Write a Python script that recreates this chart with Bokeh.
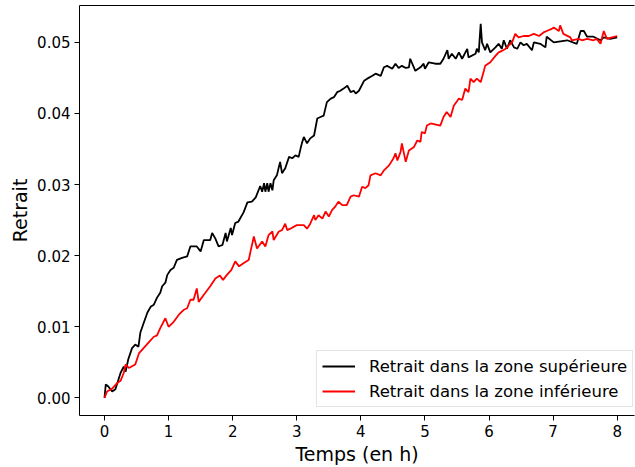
from bokeh.plotting import figure
from bokeh.models import Range1d, FixedTicker, NumeralTickFormatter, Legend, LegendItem, LinearAxis
from bokeh.embed import file_html
from bokeh.resources import INLINE

# Temps (h) and retrait, zone supérieure
t_sup = [0.00, 0.02, 0.06, 0.12, 0.17, 0.25, 0.30, 0.33, 0.37, 0.43, 0.48, 0.53, 0.56, 0.61, 0.67, 0.72,
         0.77, 0.82, 0.87, 0.90, 0.95, 0.98, 1.03, 1.08, 1.13, 1.21, 1.29, 1.34, 1.44, 1.50, 1.55, 1.65,
         1.68, 1.73, 1.78, 1.84, 1.89, 1.91, 1.97, 1.99, 2.04, 2.09, 2.17, 2.23, 2.30, 2.36, 2.43, 2.46,
         2.49, 2.51, 2.54, 2.56, 2.59, 2.62, 2.64, 2.69, 2.74, 2.77, 2.82, 2.88, 2.93, 2.98, 3.03, 3.06,
         3.08, 3.11, 3.16, 3.21, 3.27, 3.32, 3.37, 3.42, 3.47, 3.53, 3.58, 3.63, 3.68, 3.73, 3.79, 3.84,
         3.89, 3.92, 3.97, 4.05, 4.10, 4.18, 4.23, 4.31, 4.36, 4.41, 4.49, 4.54, 4.59, 4.64, 4.70, 4.75,
         4.77, 4.85, 4.93, 4.98, 5.00, 5.06, 5.16, 5.24, 5.29, 5.35, 5.37, 5.42, 5.48, 5.53, 5.58, 5.66,
         5.68, 5.79, 5.81, 5.84, 5.87, 5.89, 5.94, 5.97, 6.02, 6.10, 6.15, 6.20, 6.23, 6.28, 6.33, 6.39,
         6.44, 6.49, 6.54, 6.59, 6.67, 6.70, 6.80, 6.88, 6.90, 7.01, 7.22, 7.37, 7.43, 7.48, 7.53, 7.63,
         7.74, 7.79, 7.89, 8.00]
r_sup = [0.0000, 0.0019, 0.0016, 0.0009, 0.0012, 0.0035, 0.0044, 0.0037, 0.0054, 0.0070, 0.0075, 0.0072,
         0.0092, 0.0105, 0.0120, 0.0128, 0.0131, 0.0141, 0.0148, 0.0157, 0.0162, 0.0173, 0.0180, 0.0183,
         0.0194, 0.0197, 0.0199, 0.0213, 0.0213, 0.0206, 0.0222, 0.0222, 0.0232, 0.0224, 0.0213, 0.0215,
         0.0232, 0.0220, 0.0239, 0.0229, 0.0246, 0.0248, 0.0261, 0.0275, 0.0276, 0.0282, 0.0298, 0.0290,
         0.0302, 0.0290, 0.0302, 0.0290, 0.0302, 0.0292, 0.0306, 0.0313, 0.0332, 0.0316, 0.0323, 0.0339,
         0.0337, 0.0341, 0.0339, 0.0351, 0.0358, 0.0367, 0.0358, 0.0365, 0.0369, 0.0393, 0.0395, 0.0397,
         0.0416, 0.0421, 0.0423, 0.0430, 0.0432, 0.0435, 0.0439, 0.0430, 0.0432, 0.0428, 0.0432, 0.0446,
         0.0449, 0.0453, 0.0456, 0.0453, 0.0465, 0.0467, 0.0463, 0.0470, 0.0464, 0.0467, 0.0464, 0.0465,
         0.0477, 0.0460, 0.0465, 0.0470, 0.0463, 0.0472, 0.0470, 0.0470, 0.0477, 0.0489, 0.0477, 0.0484,
         0.0477, 0.0486, 0.0477, 0.0491, 0.0479, 0.0484, 0.0491, 0.0486, 0.0526, 0.0500, 0.0489, 0.0498,
         0.0486, 0.0493, 0.0498, 0.0491, 0.0503, 0.0491, 0.0503, 0.0493, 0.0491, 0.0500, 0.0496, 0.0498,
         0.0489, 0.0500, 0.0498, 0.0493, 0.0508, 0.0500, 0.0503, 0.0498, 0.0516, 0.0516, 0.0508, 0.0508,
         0.0503, 0.0507, 0.0505, 0.0507]

# Temps (h) and retrait, zone inférieure
t_inf = [0.00, 0.04, 0.12, 0.20, 0.25, 0.30, 0.33, 0.38, 0.48, 0.54, 0.61, 0.69, 0.77, 0.82, 0.87, 0.95,
         1.00, 1.08, 1.16, 1.24, 1.29, 1.34, 1.39, 1.44, 1.47, 1.55, 1.65, 1.73, 1.80, 1.85, 1.91, 1.98,
         2.04, 2.10, 2.18, 2.25, 2.33, 2.38, 2.46, 2.51, 2.56, 2.62, 2.64, 2.72, 2.77, 2.82, 2.85, 2.90,
         3.00, 3.11, 3.16, 3.21, 3.27, 3.29, 3.34, 3.40, 3.45, 3.50, 3.55, 3.60, 3.65, 3.71, 3.78, 3.84,
         3.89, 3.97, 4.02, 4.07, 4.12, 4.15, 4.23, 4.31, 4.36, 4.44, 4.51, 4.54, 4.57, 4.62, 4.64, 4.70,
         4.75, 4.83, 4.88, 4.93, 4.95, 5.00, 5.03, 5.09, 5.24, 5.29, 5.34, 5.40, 5.45, 5.53, 5.58, 5.63,
         5.68, 5.71, 5.76, 5.81, 5.87, 5.92, 5.94, 6.02, 6.10, 6.15, 6.20, 6.26, 6.31, 6.36, 6.41, 6.46,
         6.54, 6.62, 6.70, 6.78, 6.85, 6.90, 6.98, 7.01, 7.09, 7.11, 7.16, 7.27, 7.29, 7.40, 7.45, 7.53,
         7.63, 7.68, 7.74, 7.79, 7.84, 7.92, 8.00]
r_inf = [0.0000, 0.0009, 0.0013, 0.0021, 0.0024, 0.0035, 0.0047, 0.0042, 0.0047, 0.0063, 0.0070, 0.0078,
         0.0086, 0.0088, 0.0098, 0.0112, 0.0100, 0.0107, 0.0117, 0.0124, 0.0126, 0.0138, 0.0138, 0.0154,
         0.0135, 0.0145, 0.0157, 0.0168, 0.0172, 0.0166, 0.0173, 0.0180, 0.0192, 0.0185, 0.0190, 0.0194,
         0.0227, 0.0210, 0.0220, 0.0213, 0.0229, 0.0234, 0.0222, 0.0234, 0.0236, 0.0245, 0.0236, 0.0238,
         0.0243, 0.0243, 0.0238, 0.0245, 0.0257, 0.0250, 0.0257, 0.0252, 0.0262, 0.0255, 0.0264, 0.0269,
         0.0276, 0.0271, 0.0271, 0.0283, 0.0285, 0.0283, 0.0297, 0.0295, 0.0299, 0.0313, 0.0316, 0.0313,
         0.0320, 0.0327, 0.0337, 0.0344, 0.0334, 0.0346, 0.0358, 0.0332, 0.0348, 0.0353, 0.0362, 0.0360,
         0.0374, 0.0372, 0.0383, 0.0386, 0.0383, 0.0395, 0.0402, 0.0395, 0.0411, 0.0421, 0.0419, 0.0435,
         0.0430, 0.0449, 0.0444, 0.0449, 0.0444, 0.0460, 0.0467, 0.0472, 0.0481, 0.0486, 0.0488, 0.0491,
         0.0496, 0.0500, 0.0512, 0.0507, 0.0509, 0.0509, 0.0512, 0.0509, 0.0514, 0.0516, 0.0519, 0.0521,
         0.0516, 0.0524, 0.0512, 0.0507, 0.0503, 0.0505, 0.0503, 0.0505, 0.0503, 0.0505, 0.0498, 0.0516,
         0.0505, 0.0507, 0.0509]

x_ticks = [0, 1, 2, 3, 4, 5, 6, 7, 8]
y_ticks = [0.00, 0.01, 0.02, 0.03, 0.04, 0.05]
label_sup = "Retrait dans la zone supérieure"
label_inf = "Retrait dans la zone inférieure"

FONT = "DejaVu Sans"

p = figure(width=635, height=467, output_backend="svg", toolbar_location=None,
           x_range=Range1d(-0.39, 8.27), y_range=Range1d(-0.00248, 0.05519),
           min_border_left=79, min_border_right=1, min_border_top=5, min_border_bottom=51)

r1 = p.line(t_sup, r_sup, line_color="black", line_width=1.8)
r2 = p.line(t_inf, r_inf, line_color="red", line_width=1.8)

p.grid.visible = False
p.outline_line_color = None
p.background_fill_color = "white"
p.border_fill_color = "white"

xa = p.below[0]
ya = p.left[0]

for ax in (xa, ya):
    ax.axis_line_color = "black"
    ax.major_tick_line_color = "black"
    ax.major_tick_out = 5
    ax.major_tick_in = 0
    ax.minor_tick_line_color = None
    ax.major_label_text_font = FONT
    ax.major_label_text_font_size = "15px"
    ax.major_label_text_color = "black"
    ax.axis_label_text_font = FONT
    ax.axis_label_text_font_size = "19px"
    ax.axis_label_text_font_style = "normal"
    ax.axis_label_text_color = "black"

xa.ticker = FixedTicker(ticks=x_ticks)
ya.ticker = FixedTicker(ticks=y_ticks)
ya.formatter = NumeralTickFormatter(format="0.00")
xa.axis_label = "Temps (en h)"
ya.axis_label = "Retrait"
xa.major_label_standoff = 4
ya.major_label_standoff = 4
xa.axis_label_standoff = 3
ya.axis_label_standoff = 3

# top spine (no ticks, no labels)
top = LinearAxis(ticker=FixedTicker(ticks=[]), axis_line_color="black",
                 major_tick_line_color=None, minor_tick_line_color=None,
                 major_label_text_font_size="0px")
p.add_layout(top, "above")

legend = Legend(items=[LegendItem(label=label_sup, renderers=[r1]),
                       LegendItem(label=label_inf, renderers=[r2])],
                location=(237, 8))
legend.label_text_font = FONT
legend.label_text_font_size = "16.5px"
legend.label_text_color = "black"
legend.glyph_width = 33
legend.glyph_height = 20
legend.label_standoff = 14
legend.label_height = 20
legend.spacing = 5
legend.padding = 5
legend.margin = 0
legend.border_line_color = "#cccccc"
legend.border_line_width = 1
legend.background_fill_alpha = 0.8
p.add_layout(legend)

open("out.html", "w").write(file_html(p, INLINE))
